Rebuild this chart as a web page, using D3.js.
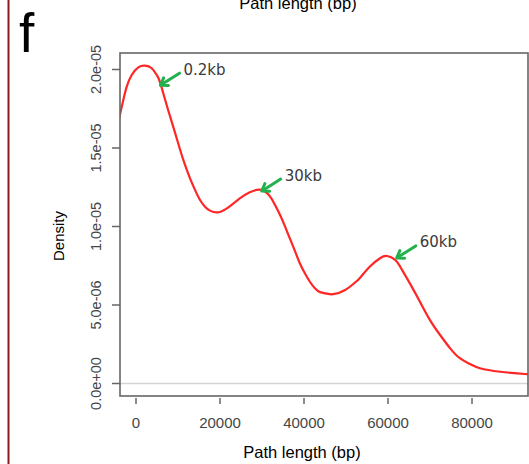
<!DOCTYPE html>
<html>
<head>
<meta charset="utf-8">
<script src="https://cdn.jsdelivr.net/npm/d3@7"></script>
<style>
  body { margin: 0; background: #fff; }
  svg { display: block; font-family: "Liberation Sans", Arial, sans-serif; }
</style>
</head>
<body>
<svg id="chart" width="529" height="464"></svg>
<script>
// density estimate (x in bp, y in units of 1e-6)
let pathLen = [-4300, -3570, -3020, -2210, -1020, 550, 2140, 3740, 4930, 5710, 6900, 8100,
    9290, 10480, 11670, 12860, 14050, 15240, 16430, 17620, 19760, 22400, 24800, 27100,
    29800, 31900, 33100, 34300, 35500, 36700, 37900, 39000, 40200, 41400, 42600, 43800,
    45500, 47000, 49800, 52100, 53300, 55700, 58100, 59800, 61700, 62900, 65200, 67600,
    70000, 72400, 74800, 77100, 79500, 81900, 86700, 93300, 96000];
let density = [16.6, 17.42, 18.06, 18.91, 19.65, 20.14, 20.24, 20.08, 19.65, 19.2, 18.1, 17.02,
    15.98, 14.9, 13.92, 13.07, 12.33, 11.69, 11.26, 11.01, 10.91, 11.3, 11.8, 12.18,
    12.33, 11.92, 11.37, 10.73, 9.99, 9.19, 8.4, 7.66, 7.02, 6.48, 6.06, 5.82,
    5.72, 5.69, 5.96, 6.42, 6.72, 7.45, 7.98, 8.12, 7.88, 7.44, 6.38, 5.21,
    4.04, 3.09, 2.24, 1.61, 1.24, 0.97, 0.75, 0.59, 0.55].map(d => d * 1e-6);

let xTicks = [0, 20000, 40000, 60000, 80000];
let yTicks = [0, 5e-6, 1e-5, 1.5e-5, 2e-5];
let yTickLabels = ["0.0e+00", "5.0e-06", "1.0e-05", "1.5e-05", "2.0e-05"];

// peak annotations: label and the point the arrow touches
let peakLabels = ["0.2kb", "30kb", "60kb"];
let peakX = [5830, 29930, 62070];
let peakY = [19.0e-6, 12.26e-6, 8.0e-6];

let box = {left: 120, right: 528, top: 53, bottom: 396};

let svg = d3.select("#chart");

let x = d3.scaleLinear()
    .domain([-3810, 93330])
    .range([box.left, box.right]);

let y = d3.scaleLinear()
    .domain([-0.796e-6, 21.05e-6])
    .range([box.bottom, box.top]);

// left frame line and panel letter
svg.append("line")
    .attr("x1", 8.5).attr("x2", 8.5)
    .attr("y1", 0).attr("y2", 464)
    .style("stroke", "#8a1c1c")
    .style("stroke-width", 2);

svg.append("text")
    .attr("x", 19).attr("y", 52)
    .style("font-size", "55px")
    .text("f");

// clipped title of the panel above
svg.append("text")
    .attr("x", 298).attr("y", 9)
    .attr("text-anchor", "middle")
    .style("font-size", "16.5px")
    .text("Path length (bp)");

svg.append("defs").append("clipPath")
    .attr("id", "plotclip")
    .append("rect")
    .attr("x", box.left).attr("y", box.top)
    .attr("width", box.right - box.left)
    .attr("height", box.bottom - box.top);

// zero line
svg.append("line")
    .attr("x1", box.left).attr("x2", box.right)
    .attr("y1", y(0)).attr("y2", y(0))
    .style("stroke", "#d4d4d4")
    .style("stroke-width", 1.5);

let line = d3.line()
    .curve(d3.curveNatural)
    .x(function(d, i) { return x(pathLen[i]); })
    .y(function(d, i) { return y(density[i]); });

svg.append("path")
    .datum(density)
    .attr("clip-path", "url(#plotclip)")
    .attr("d", line)
    .style("fill", "none")
    .style("stroke", "#ff2626")
    .style("stroke-width", 2.2);

// plot frame
svg.append("rect")
    .attr("x", box.left).attr("y", box.top)
    .attr("width", box.right - box.left)
    .attr("height", box.bottom - box.top)
    .style("fill", "none")
    .style("stroke", "#666")
    .style("stroke-width", 1.6);

// y axis
let yAxis = svg.append("g");
yAxis.selectAll("line")
    .data(yTicks)
    .enter().append("line")
    .attr("x1", box.left - 8).attr("x2", box.left)
    .attr("y1", d => y(d)).attr("y2", d => y(d))
    .style("stroke", "#666")
    .style("stroke-width", 1.5);
yAxis.selectAll("text")
    .data(yTicks)
    .enter().append("text")
    .attr("transform", d => "translate(101," + y(d) + ") rotate(-90)")
    .attr("text-anchor", "middle")
    .style("font-size", "14.5px")
    .style("fill", "#454545")
    .text((d, i) => yTickLabels[i]);

// x axis
let xAxis = svg.append("g");
xAxis.selectAll("line")
    .data(xTicks)
    .enter().append("line")
    .attr("x1", d => x(d)).attr("x2", d => x(d))
    .attr("y1", box.bottom + 2).attr("y2", box.bottom + 8)
    .style("stroke", "#666")
    .style("stroke-width", 1.5);
xAxis.selectAll("text")
    .data(xTicks)
    .enter().append("text")
    .attr("x", d => x(d)).attr("y", 428)
    .attr("text-anchor", "middle")
    .style("font-size", "15px")
    .style("fill", "#454545")
    .text(d => d);

svg.append("text")
    .attr("x", 302).attr("y", 458)
    .attr("text-anchor", "middle")
    .style("font-size", "16.5px")
    .text("Path length (bp)");

svg.append("text")
    .attr("transform", "translate(64,236) rotate(-90)")
    .attr("text-anchor", "middle")
    .style("font-size", "15px")
    .text("Density");

// green arrows with peak labels
let marks = svg.append("g");
peakLabels.forEach(function(lbl, i) {
    let tx = x(peakX[i]), ty = y(peakY[i]);
    let ax = tx + 19, ay = ty - 12;
    let ang = Math.atan2(ay - ty, ax - tx);
    let hl = 8, spread = 0.6;
    marks.append("line")
        .attr("x1", ax).attr("y1", ay)
        .attr("x2", tx + 1).attr("y2", ty - 0.6)
        .style("stroke", "#22b14c")
        .style("stroke-width", 3)
        .style("stroke-linecap", "round");
    marks.append("path")
        .attr("d", "M" + (tx + hl * Math.cos(ang + spread)) + "," + (ty + hl * Math.sin(ang + spread))
            + "L" + tx + "," + ty
            + "L" + (tx + hl * Math.cos(ang - spread)) + "," + (ty + hl * Math.sin(ang - spread)))
        .style("fill", "none")
        .style("stroke", "#22b14c")
        .style("stroke-width", 3)
        .style("stroke-linecap", "round")
        .style("stroke-linejoin", "round");
    marks.append("text")
        .attr("x", tx + 23).attr("y", ty - 10.5)
        .style("font-family", "'DejaVu Sans', sans-serif")
        .style("font-size", "15px")
        .style("fill", "#3a3a3a")
        .text(lbl);
});
</script>
</body>
</html>
